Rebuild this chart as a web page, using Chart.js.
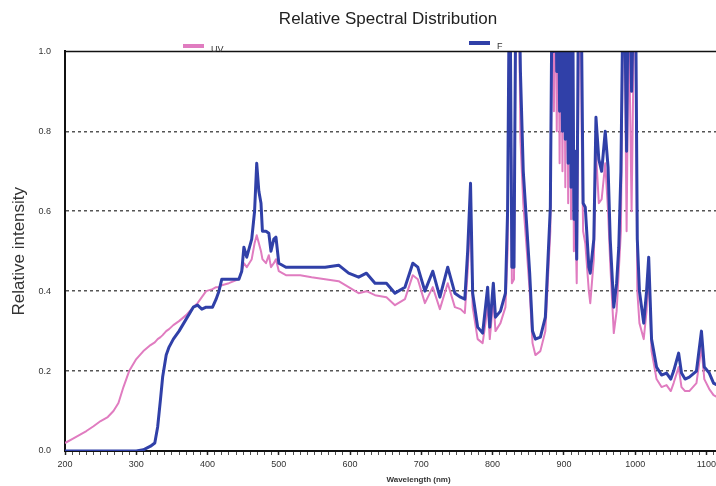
<!DOCTYPE html>
<html>
<head>
<meta charset="utf-8">
<title>Relative Spectral Distribution</title>
<script src="https://cdn.jsdelivr.net/npm/chart.js@4.4.1/dist/chart.umd.min.js"></script>
<style>
  html, body { margin: 0; padding: 0; background: #fff; overflow: hidden; }
  #wrap { width: 776px; height: 486px; }
</style>
</head>
<body>
<div id="wrap"><canvas id="spectrum" width="776" height="486"></canvas></div>
<script>
// wavelength samples (nm)
const wavelengths = [
  200, 210, 220, 230, 240, 250, 260, 268, 275, 282, 290, 300, 310, 320, 326, 330, 334, 337, 342, 346,
  352, 360, 370, 380, 386, 392, 398, 407, 412, 416, 420, 430, 444, 448, 451, 455, 462, 466, 469, 472,
  475, 477, 482, 486, 489, 493, 496, 500, 510, 530, 546, 565, 584, 598, 612, 623, 635, 651, 663, 677,
  688, 695, 705, 716, 726, 737, 747, 755, 761, 765, 769, 772, 779, 786, 790, 793, 796, 801, 804, 811,
  818, 821, 824, 827, 830, 833, 836, 839, 843, 848, 852, 856, 860, 867, 874,
  881, 884, 886, 888, 890, 892, 894, 896, 898, 900, 902, 904, 906, 908, 910, 912, 914, 916, 918, 921, 923, 925, 927, 930,
  935, 937, 942, 945, 949, 953, 958, 962, 965, 970, 974,
  977, 980, 984, 988, 991, 995, 1000, 1003, 1006, 1012, 1016, 1019, 1023, 1030, 1037, 1044, 1050, 1054, 1061, 1065,
  1070, 1076, 1086, 1093, 1097, 1104, 1110, 1120
];

// "UV" series (pink)
const uvValues = [
  0.02, 0.03, 0.04, 0.05, 0.062, 0.075, 0.085, 0.10, 0.12, 0.16, 0.20, 0.23, 0.25, 0.265, 0.272, 0.28, 0.285, 0.29, 0.30, 0.305,
  0.315, 0.325, 0.34, 0.36, 0.37, 0.385, 0.40, 0.405, 0.41, 0.41, 0.415, 0.42, 0.43, 0.45, 0.47, 0.46, 0.48, 0.52, 0.54, 0.52,
  0.50, 0.48, 0.47, 0.49, 0.46, 0.47, 0.48, 0.45, 0.44, 0.44, 0.435, 0.43, 0.425, 0.41, 0.395, 0.40, 0.39, 0.385, 0.365, 0.38,
  0.44, 0.43, 0.37, 0.41, 0.355, 0.42, 0.36, 0.355, 0.345, 0.45, 0.60, 0.36, 0.28, 0.27, 0.32, 0.37, 0.28, 0.38, 0.30, 0.32,
  0.36, 0.50, 1.3, 0.42, 0.43, 1.3, 1.3, 0.78, 0.62, 0.50, 0.40, 0.27, 0.24, 0.25, 0.30,
  0.55, 1.3, 0.85, 1.3, 0.80, 1.3, 0.72, 1.3, 0.70, 1.3, 0.66, 1.3, 0.62, 1.3, 0.58, 1.2, 0.50, 0.60, 0.42, 1.0, 1.3, 0.80, 0.55, 0.52,
  0.40, 0.37, 0.48, 0.75, 0.62, 0.63, 0.72, 0.60, 0.47, 0.295, 0.35,
  0.45, 0.55, 1.3, 0.55, 1.1, 0.6, 1.3, 0.40, 0.32, 0.28, 0.35, 0.45, 0.25, 0.18, 0.16, 0.165, 0.15, 0.17, 0.21, 0.16,
  0.15, 0.15, 0.17, 0.26, 0.18, 0.155, 0.14, 0.13
];

// "F" series (blue)
const fValues = [
  0, 0, 0, 0, 0, 0, 0, 0, 0, 0, 0, 0, 0.003, 0.012, 0.02, 0.06, 0.13, 0.185, 0.24, 0.26,
  0.28, 0.30, 0.33, 0.36, 0.365, 0.355, 0.36, 0.36, 0.38, 0.40, 0.43, 0.43, 0.43, 0.45, 0.51, 0.485, 0.53, 0.60, 0.72, 0.65,
  0.62, 0.55, 0.55, 0.545, 0.50, 0.53, 0.535, 0.47, 0.46, 0.46, 0.46, 0.46, 0.465, 0.445, 0.435, 0.445, 0.42, 0.42, 0.395, 0.41,
  0.47, 0.46, 0.40, 0.45, 0.385, 0.46, 0.395, 0.385, 0.38, 0.50, 0.67, 0.395, 0.31, 0.295, 0.36, 0.41, 0.31, 0.42, 0.335, 0.35,
  0.395, 0.60, 1.3, 0.46, 0.46, 1.3, 1.3, 0.95, 0.70, 0.56, 0.445, 0.30, 0.28, 0.285, 0.335,
  0.61, 1.3, 1.0, 1.3, 0.95, 1.3, 0.85, 1.3, 0.80, 1.3, 0.78, 1.3, 0.72, 1.3, 0.66, 1.3, 0.58, 0.75, 0.48, 1.3, 1.3, 1.0, 0.62, 0.61,
  0.46, 0.445, 0.53, 0.835, 0.73, 0.70, 0.80, 0.71, 0.53, 0.36, 0.42,
  0.51, 0.70, 1.3, 0.75, 1.3, 0.9, 1.3, 0.53, 0.40, 0.32, 0.40, 0.485, 0.28, 0.21, 0.19, 0.195, 0.18, 0.20, 0.245, 0.195,
  0.18, 0.185, 0.20, 0.30, 0.21, 0.195, 0.17, 0.16
];

const xLabelTicks = [200, 300, 400, 500, 600, 700, 800, 900, 1000, 1100];
const yTickValues = [0, 0.2, 0.4, 0.6, 0.8, 1.0];

const uvColor = '#e07cc0';
const fColor = '#3040a8';
const fontFamily = '"Liberation Sans", Arial, sans-serif';

// loose legend like the original: each entry sits at its own spot above the plot
const legendSpots = [{ x: 183, y: 46 }, { x: 469, y: 43 }];
const looseLegend = {
  id: 'looseLegend',
  afterDraw(chart) {
    const ctx = chart.ctx;
    chart.data.datasets.forEach((ds, i) => {
      const p = legendSpots[i];
      ctx.save();
      ctx.fillStyle = ds.borderColor;
      ctx.fillRect(p.x, p.y - 2, 21, 4);
      ctx.fillStyle = '#333';
      ctx.font = '9px ' + fontFamily;
      ctx.textBaseline = 'middle';
      ctx.fillText(ds.label, p.x + 28, p.y + 4);
      ctx.restore();
    });
  }
};

// top edge of the frame
const topFrame = {
  id: 'topFrame',
  afterDatasetsDraw(chart) {
    const { ctx, chartArea } = chart;
    ctx.save();
    ctx.strokeStyle = '#111';
    ctx.lineWidth = 1.5;
    ctx.beginPath();
    ctx.moveTo(chartArea.left, chartArea.top);
    ctx.lineTo(chartArea.right, chartArea.top);
    ctx.stroke();
    ctx.restore();
  }
};

new Chart(document.getElementById('spectrum'), {
  type: 'line',
  data: {
    datasets: [{
      label: 'UV',
      data: wavelengths.map((w, i) => ({ x: w, y: uvValues[i] })),
      borderColor: uvColor,
      backgroundColor: uvColor,
      borderWidth: 2,
      order: 2
    }, {
      label: 'F',
      data: wavelengths.map((w, i) => ({ x: w, y: fValues[i] })),
      borderColor: fColor,
      backgroundColor: fColor,
      borderWidth: 3,
      order: 1
    }]
  },
  options: {
    responsive: false,
    animation: false,
    layout: { padding: 0 },
    elements: {
      point: { radius: 0 },
      line: { tension: 0, borderJoinStyle: 'round' }
    },
    plugins: {
      legend: { display: false },
      tooltip: { enabled: false },
      title: {
        display: true,
        text: 'Relative Spectral Distribution',
        color: '#222',
        font: { family: fontFamily, size: 17, weight: 'normal' },
        padding: { top: 9, bottom: 22 }
      }
    },
    scales: {
      x: {
        type: 'linear',
        min: 200,
        max: 1192,
        afterFit(scale) { scale.height = 35; },
        border: { display: true, color: '#111', width: 2 },
        grid: {
          drawOnChartArea: false,
          drawTicks: true,
          tickLength: 4,
          tickColor: '#222',
          tickWidth: ctx => (xLabelTicks.includes(ctx.tick.value) ? 1.5 : 0.8)
        },
        ticks: {
          stepSize: 10,
          autoSkip: false,
          maxRotation: 0,
          padding: 4,
          color: '#333',
          font: { family: fontFamily, size: 9 },
          callback: v => (xLabelTicks.includes(v) ? String(v) : '')
        },
        title: {
          display: true,
          text: 'Wavelength (nm)',
          color: '#333',
          font: { family: fontFamily, size: 8, weight: 'bold' },
          padding: { top: 0, bottom: 1 }
        }
      },
      y: {
        min: 0,
        max: 1,
        afterFit(scale) { scale.width = 65; },
        afterBuildTicks(scale) { scale.ticks = yTickValues.map(v => ({ value: v })); },
        border: { display: true, color: '#111', width: 2, dash: [3, 3] },
        grid: {
          drawTicks: false,
          lineWidth: 1.5,
          color: ctx => (ctx.tick.value > 0 && ctx.tick.value < 1 ? '#555' : 'rgba(0,0,0,0)')
        },
        ticks: {
          padding: 14,
          color: '#333',
          font: { family: fontFamily, size: 9 },
          callback: v => Number(v).toFixed(1)
        },
        title: {
          display: true,
          text: 'Relative intensity',
          color: '#333',
          font: { family: fontFamily, size: 17, weight: 'normal' },
          padding: { top: 9, bottom: 0 }
        }
      }
    }
  },
  plugins: [looseLegend, topFrame]
});
</script>
</body>
</html>
